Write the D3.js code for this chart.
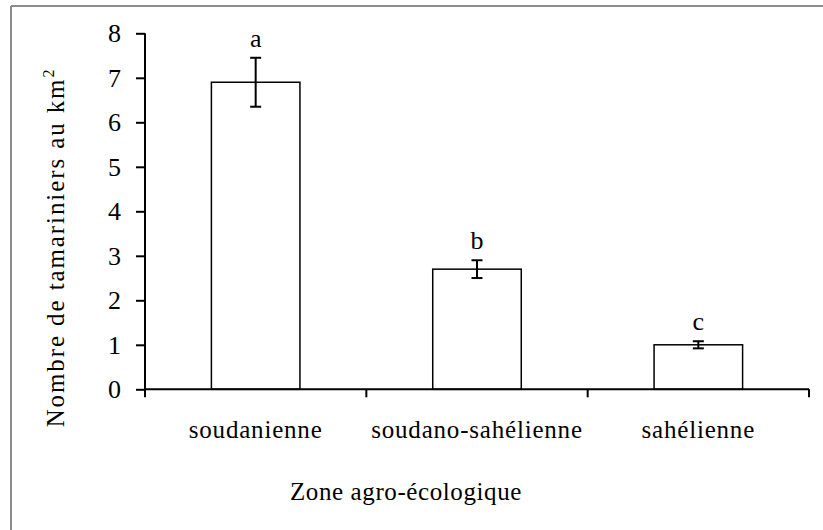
<!DOCTYPE html>
<html>
<head>
<meta charset="utf-8">
<script src="https://cdn.jsdelivr.net/npm/d3@7"></script>
<style>
  html, body { margin: 0; padding: 0; background: #fff; }
  svg { display: block; }
  text { font-family: "Liberation Serif", "Times New Roman", serif; fill: #000; }
</style>
</head>
<body>
<svg id="chart" width="823" height="530"></svg>
<script>
// ---- data ----
const categories = ["soudanienne", "soudano-sahélienne", "sahélienne"];
const means = [6.9, 2.7, 1.0];
const errors = [0.55, 0.2, 0.08];
const letters = ["a", "b", "c"];
const yTicks = [0, 1, 2, 3, 4, 5, 6, 7, 8];
const yTitle = "Nombre de tamariniers au km";
const yTitleSup = "2";
const xTitle = "Zone agro-écologique";

// ---- layout ----
const W = 823, H = 530;
const plot = { left: 145, right: 809, top: 33.3, bottom: 389.3 };

const svg = d3.select("#chart");

// outer frame (gray)
svg.append("line").attr("x1", 11).attr("y1", 6).attr("x2", W).attr("y2", 6)
  .attr("stroke", "#8c8c8c").attr("stroke-width", 2);
svg.append("line").attr("x1", 11).attr("y1", 6).attr("x2", 11).attr("y2", H)
  .attr("stroke", "#8c8c8c").attr("stroke-width", 2);

const x = d3.scaleBand().domain(categories).range([plot.left, plot.right]).padding(0);
const y = d3.scaleLinear().domain([0, 8]).range([plot.bottom, plot.top]);
const barW = x.step() * 0.4;

// bars
svg.append("g").selectAll("rect").data(categories).join("rect")
  .attr("x", (d) => x(d) + x.bandwidth() / 2 - barW / 2)
  .attr("y", (d, i) => y(means[i]))
  .attr("width", barW)
  .attr("height", (d, i) => y(0) - y(means[i]))
  .attr("fill", "#fff")
  .attr("stroke", "#000")
  .attr("stroke-width", 1.5);

// error bars
const eg = svg.append("g").attr("stroke", "#000").attr("stroke-width", 2);
categories.forEach((c, i) => {
  const cx = x(c) + x.bandwidth() / 2;
  const t = y(means[i] + errors[i]), b = y(means[i] - errors[i]);
  eg.append("line").attr("x1", cx).attr("x2", cx).attr("y1", t).attr("y2", b);
  eg.append("line").attr("x1", cx - 5.5).attr("x2", cx + 5.5).attr("y1", t).attr("y2", t);
  eg.append("line").attr("x1", cx - 5.5).attr("x2", cx + 5.5).attr("y1", b).attr("y2", b);
});

// significance letters
svg.append("g").selectAll("text").data(categories).join("text")
  .attr("x", (d) => x(d) + x.bandwidth() / 2)
  .attr("y", (d, i) => y(means[i] + errors[i]) - 11)
  .attr("text-anchor", "middle")
  .attr("font-size", 26)
  .text((d, i) => letters[i]);

// y axis
const yAxis = d3.axisLeft(y).tickValues(yTicks).tickSize(9).tickPadding(15).tickFormat(d3.format("d"));
const yg = svg.append("g").attr("transform", `translate(${plot.left},0)`).call(yAxis);
yg.select(".domain").attr("stroke", "#000").attr("stroke-width", 2)
  .attr("d", `M0,${plot.top}V${plot.bottom}`);
yg.selectAll(".tick line").attr("stroke", "#000").attr("stroke-width", 2);
yg.selectAll(".tick text").attr("font-size", 26)
  .attr("font-family", "Liberation Serif, serif").attr("fill", "#000");

// x axis line
svg.append("line").attr("x1", plot.left).attr("x2", plot.right)
  .attr("y1", y(0)).attr("y2", y(0)).attr("stroke", "#000").attr("stroke-width", 2);
// boundary ticks
const bounds = categories.map((c) => x(c)).concat([x(categories[categories.length - 1]) + x.step()]);
svg.append("g").selectAll("line").data(bounds).join("line")
  .attr("x1", (d) => d).attr("x2", (d) => d)
  .attr("y1", y(0)).attr("y2", y(0) + 8)
  .attr("stroke", "#000").attr("stroke-width", 2);
// category labels
svg.append("g").selectAll("text").data(categories).join("text")
  .attr("x", (d) => x(d) + x.bandwidth() / 2)
  .attr("y", 438)
  .attr("text-anchor", "middle")
  .attr("font-size", 25)
  .attr("letter-spacing", 0.8)
  .text((d) => d);

// x title
svg.append("text").attr("x", 406).attr("y", 500).attr("text-anchor", "middle")
  .attr("font-size", 25).attr("letter-spacing", 0.6).text(xTitle);

// y title
const yt = svg.append("text")
  .attr("transform", `translate(64,247.5) rotate(-90)`)
  .attr("text-anchor", "middle")
  .attr("font-size", 25)
  .attr("letter-spacing", 1.9);
yt.append("tspan").text(yTitle);
yt.append("tspan").attr("font-size", 16).attr("dy", -10).text(yTitleSup);
</script>
</body>
</html>
